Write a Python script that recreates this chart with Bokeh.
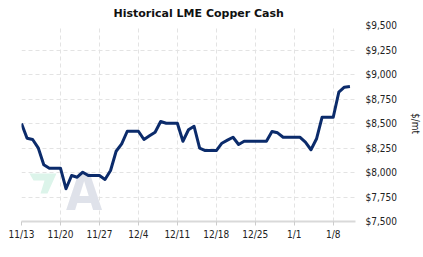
import pandas as pd
from bokeh.plotting import figure
from bokeh.models import FixedTicker, Range1d, NumeralTickFormatter, Label, PolyAnnotation
from bokeh.embed import file_html
from bokeh.resources import INLINE

start_date = "2017-11-13"
dates = pd.date_range("2017-11-13", "2018-01-11", freq="D").strftime("%Y-%m-%d").tolist()
prices = [8500, 8350, 8337, 8252, 8079, 8044, 8044, 8044, 7834, 7969,
          7952, 8003, 7969, 7969, 7969, 7929, 8020, 8217, 8293, 8421,
          8421, 8421, 8337, 8374, 8411, 8520, 8503, 8503, 8503, 8319,
          8436, 8472, 8248, 8224, 8224, 8224, 8299, 8330, 8360, 8286,
          8319, 8319, 8319, 8319, 8319, 8418, 8405, 8360, 8360, 8360,
          8360, 8309, 8232, 8344, 8564, 8564, 8564, 8819, 8870, 8878]
tick_dates = ["2017-11-13", "2017-11-20", "2017-11-27", "2017-12-04", "2017-12-11",
              "2017-12-18", "2017-12-25", "2018-01-01", "2018-01-08"]
tick_labels = ["11/13", "11/20", "11/27", "12/4", "12/11", "12/18", "12/25", "1/1", "1/8"]
y_ticks = [7500, 7750, 8000, 8250, 8500, 8750, 9000, 9250, 9500]

t0 = pd.Timestamp(start_date)
xs = [(pd.Timestamp(d) - t0).days for d in dates]
xt = [(pd.Timestamp(d) - t0).days for d in tick_dates]

FONT = "DejaVu Sans Condensed"

p = figure(width=423, height=257, output_backend="svg", toolbar_location=None,
           y_axis_location="right", title="Historical LME Copper Cash",
           min_border_left=21, min_border_right=68, min_border_top=25, min_border_bottom=36,
           x_range=Range1d(0, 60), y_range=Range1d(7500, 9500))
p.outline_line_color = None
p.background_fill_color = "white"
p.border_fill_color = "white"

p.title.align = "left"
p.title.offset = 92
p.title.vertical_align = "middle"
p.title.text_font = "DejaVu Sans"
p.title.text_font_style = "bold"
p.title.text_font_size = "11px"
p.title.text_color = "#111111"

# faint watermark logo
p.add_layout(PolyAnnotation(xs=[8, 35, 26, 19, 23, 12], ys=[48, 48, 28, 28, 41, 41],
                            xs_units="screen", ys_units="screen",
                            fill_color="#dcf4ea", fill_alpha=1, line_color=None))
p.add_layout(Label(x=8.0, y=7806, text="A",
                   text_font="DejaVu Sans Condensed", text_font_style="bold",
                   text_font_size="52px", text_color="#dfe2ea", text_baseline="middle",
                   level="underlay"))

p.line(xs, prices, line_color="#0b2b6b", line_width=3, line_join="round")

xa = p.xaxis[0]
xa.ticker = FixedTicker(ticks=xt)
xa.major_label_overrides = {int(v): l for v, l in zip(xt, tick_labels)}
xa.axis_line_color = "#d9d9d9"
xa.axis_line_width = 2
xa.major_tick_line_color = "#cccccc"
xa.major_tick_in = 0
xa.major_tick_out = 4
xa.minor_tick_line_color = None
xa.major_label_text_font = FONT
xa.major_label_text_font_size = "10px"
xa.major_label_text_color = "#222222"
xa.major_label_standoff = 3

ya = p.yaxis[0]
ya.ticker = FixedTicker(ticks=y_ticks)
ya.formatter = NumeralTickFormatter(format="$0,0")
ya.axis_line_color = None
ya.major_tick_line_color = None
ya.major_tick_out = 0
ya.major_tick_in = 0
ya.minor_tick_line_color = None
ya.major_label_text_font = FONT
ya.major_label_text_font_size = "10px"
ya.major_label_text_color = "#222222"
ya.major_label_standoff = 10
ya.axis_label = "$/mt"
ya.axis_label_text_font = FONT
ya.axis_label_text_font_size = "10px"
ya.axis_label_text_font_style = "normal"
ya.axis_label_text_color = "#222222"
ya.axis_label_standoff = 10

for g in (p.xgrid[0], p.ygrid[0]):
    g.grid_line_color = "#e3e3e3"
    g.grid_line_dash = "4 3"
    g.grid_line_width = 1
p.xgrid[0].ticker = FixedTicker(ticks=xt)
p.ygrid[0].ticker = FixedTicker(ticks=y_ticks)

open("out.html", "w").write(file_html(p, INLINE))
